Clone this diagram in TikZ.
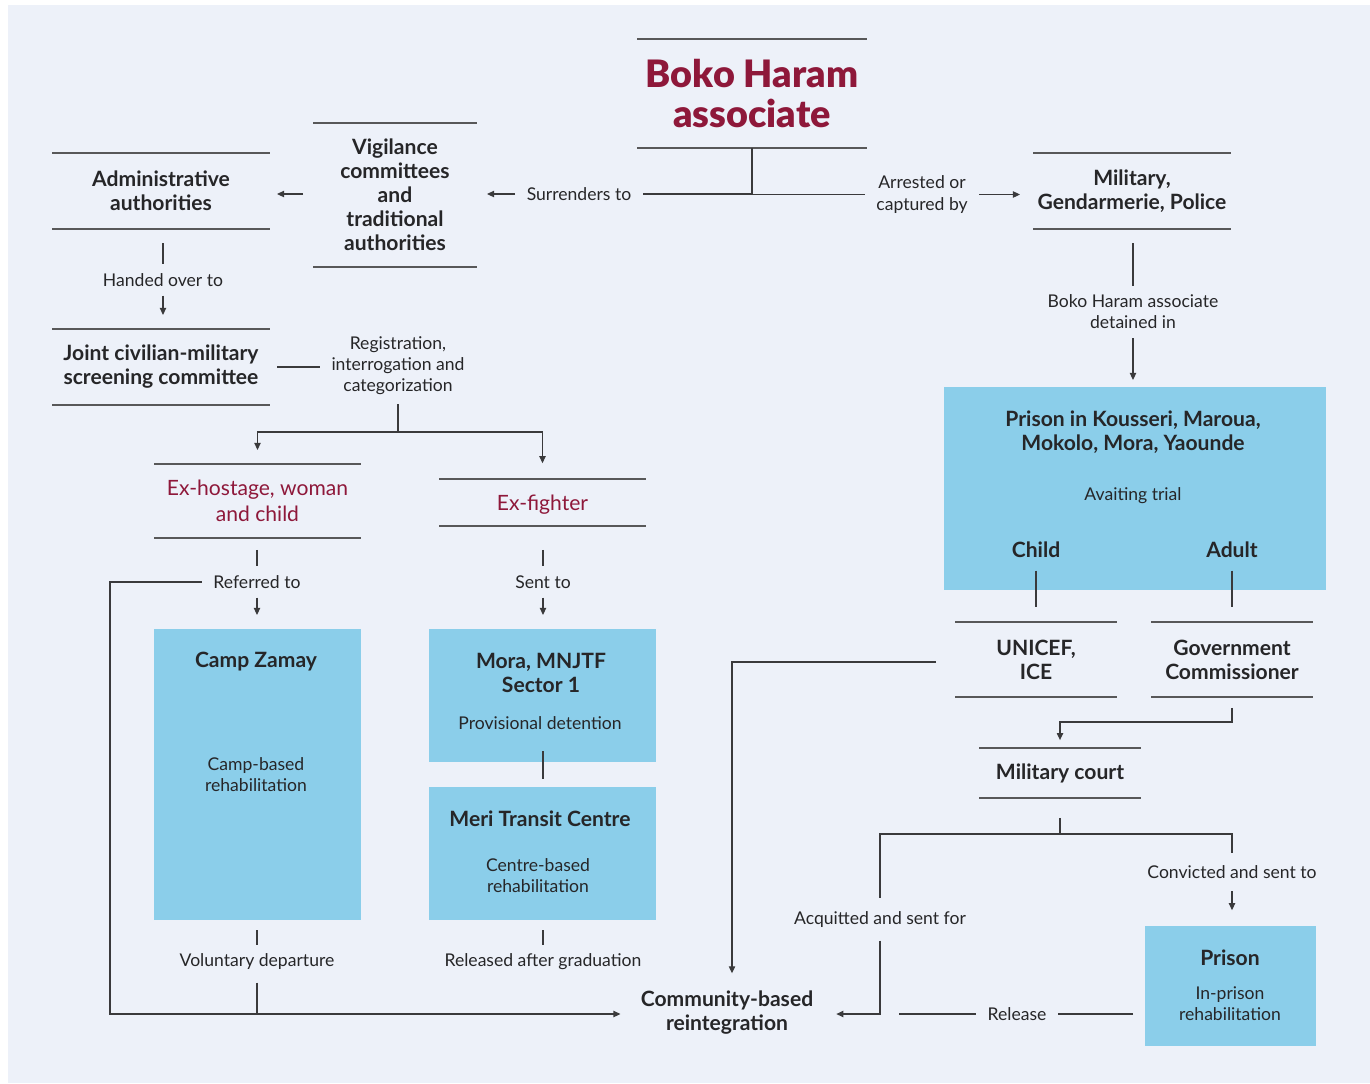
\documentclass[tikz,border=0pt]{standalone}
\usepackage{fontspec}
\setmainfont{Lato}
\newfontfamily\heavyfont{Lato Black}
\usepackage{tikz}
\usetikzlibrary{arrows.meta,positioning,calc}
\usepackage{xcolor}
\definecolor{panelgray}{RGB}{237,241,249}
\definecolor{skyblue}{RGB}{139,206,234}
\definecolor{maroon}{RGB}{142,24,58}
\definecolor{inkgray}{RGB}{38,38,40}
\definecolor{linegray}{RGB}{58,58,60}
\tikzset{
  title/.style={font=\fontsize{21.5}{22.7}\selectfont\heavyfont, text=maroon, align=center},
  head/.style={font=\fontsize{12}{13.7}\selectfont\bfseries, text=inkgray, align=center, inner sep=0pt},
  note/.style={font=\fontsize{10}{12}\selectfont, text=inkgray, align=center, inner sep=0pt},
  lbl/.style={font=\fontsize{10}{12}\selectfont, text=inkgray, align=center, inner xsep=6.5pt, inner ysep=5pt},
  redlbl/.style={font=\fontsize{12}{14.7}\selectfont, text=maroon, align=center},
  bar/.style n args={2}{minimum width=#1, minimum height=#2, inner sep=0pt, outer sep=0pt},
  box/.style n args={2}{fill=skyblue, minimum width=#1, minimum height=#2, inner sep=0pt, outer sep=0pt},
  barline/.style={draw=linegray!85, line width=0.75pt},
  link/.style={draw=linegray, line width=0.65pt},
  arrow/.style={link, -{Triangle[length=4pt,width=3.6pt]}},
}
\begin{document}
\begin{tikzpicture}[x=0.02cm, y=-0.02cm]
\fill[white] (0,0) rectangle (1370,1083);
\fill[panelgray] (8,5) rectangle (1370,1083);
\useasboundingbox (0,0) rectangle (1370,1083);

% nodes with a rule above and below
\node[bar={4.6cm}{2.18cm}, title] (boko) at (752,93.5) {Boko Haram\\associate};
\node[bar={3.28cm}{2.88cm}, head] (vig) at (395,195) {Vigilance\\committees\\and\\traditional\\authorities};
\node[bar={4.36cm}{1.52cm}, head] (admin) at (161,191) {Administrative\\authorities};
\node[bar={4.36cm}{1.52cm}, head] (joint) at (161,367) {Joint civilian-military\\screening committee};
\node[bar={4.14cm}{1.48cm}, redlbl] (exh) at (257.5,501) {Ex-hostage, woman\\and child};
\node[bar={4.14cm}{0.94cm}, redlbl, text depth=0pt] (exf) at (542.5,502.5) {Ex-fighter};
\node[bar={3.96cm}{1.52cm}, head] (mil) at (1132,191) {Military,\\Gendarmerie, Police};
\node[bar={3.24cm}{1.5cm}, head] (unicef) at (1036,659.5) {UNICEF,\\ICE};
\node[bar={3.24cm}{1.5cm}, head] (gov) at (1232,659.5) {Government\\Commissioner};
\node[bar={3.24cm}{1.0cm}, head] (court) at (1060,773) {Military court};
\foreach \n in {boko,vig,admin,joint,exh,exf,mil,unicef,gov,court}
  \draw[barline] (\n.north west) -- (\n.north east) (\n.south west) -- (\n.south east);

% blue boxes
\node[box={4.14cm}{5.82cm}] (camp) at (257.5,774.5) {};
\node[box={4.54cm}{2.66cm}] (mora) at (542.5,695.5) {};
\node[box={4.54cm}{2.66cm}] (meri) at (542.5,853.5) {};
\node[box={7.64cm}{4.06cm}] (pbig) at (1135,488.5) {};
\node[box={3.42cm}{2.4cm}] (prison) at (1230.5,986) {};

\node[head] (campT) at (256,662) {Camp Zamay};
\node[note] (campS) at (256,774.5) {Camp-based\\rehabilitation};
\node[head] (moraT) at (541,673) {Mora, MNJTF\\Sector 1};
\node[note] (moraS) at (540,723) {Provisional detention};
\node[head] (meriT) at (540,819) {Meri Transit Centre};
\node[note] (meriS) at (538,875.5) {Centre-based\\rehabilitation};
\node[head] (pbigT) at (1133,432) {Prison in Kousseri, Maroua,\\Mokolo, Mora, Yaounde};
\node[note] (pbigS) at (1133,496) {Avaiting trial};
\node[head] (child) at (1036,550) {Child};
\node[head] (adult) at (1232,550) {Adult};
\node[head] (prisonT) at (1230,958) {Prison};
\node[note] (prisonS) at (1230,1003.5) {In-prison\\rehabilitation};
\node[head] (comm) at (727,1013) {Community-based\\reintegration};

% connector labels
\node[lbl] (surr) at (579,194) {Surrenders to};
\node[lbl] (arr) at (922,194.5) {Arrested or\\captured by};
\node[lbl] (hand) at (163,280) {Handed over to};
\node[lbl] (reg) at (398,366) {Registration,\\interrogation and\\categorization};
\node[lbl] (refd) at (257,582) {Referred to};
\node[lbl] (sent) at (543,582) {Sent to};
\node[lbl] (vol) at (257,962) {Voluntary departure};
\node[lbl] (grad) at (543,962) {Released after graduation};
\node[lbl] (det) at (1133,312) {Boko Haram associate\\detained in};
\node[lbl] (conv) at (1232,872) {Convicted and sent to};
\node[lbl] (acq) at (880,920) {Acquitted and sent for};
\node[lbl] (rel) at (1017,1014) {Release};

\coordinate (sort) at (398,432);
\coordinate (back) at (110,1014);
\coordinate (verdict) at (1060,834);
\coordinate (drop) at (732,662);

\draw[link] (boko.south) |- (surr.east);
\draw[link] (boko.south) |- (arr.west);
\draw[arrow, shorten >=5.7pt] (surr.west) -- (surr.west -| vig.east);
\draw[arrow, shorten <=5.7pt, shorten >=4pt] (surr.west -| vig.west) -- (surr.west -| admin.east);
\draw[link, shorten <=8pt] (admin.south -| hand) -- (hand);
\draw[arrow, shorten >=8pt] (hand) -- (hand |- joint.north);
\draw[link, shorten <=4pt] (joint.east) -- (joint.east -| reg.west);
\draw[link] (reg) -- (sort);
\draw[arrow, shorten >=8pt] (sort) -| (exh.north);
\draw[arrow, shorten >=9pt] (sort) -| (exf.north);
\draw[link, shorten <=6.8pt] (exh.south -| refd) -- (refd);
\draw[arrow, shorten >=8pt] (refd) -- (refd |- camp.north);
\draw[link, shorten <=13.6pt] (exf.south -| sent) -- (sent);
\draw[arrow, shorten >=8pt] (sent) -- (sent |- mora.north);
\draw[link, shorten <=-6.2pt, shorten >=4.5pt] (mora.south -| sent) -- (meri.north -| sent);
\draw[link, shorten <=5.7pt] (camp.south -| vol) -- (vol);
\draw[link, shorten <=5.7pt] (meri.south -| grad) -- (grad);
\draw[arrow, shorten >=11.4pt] (refd.west) -| (back) -- (back -| comm.west);
\draw[link, shorten <=2pt] (vol) -- (vol |- back);
\draw[arrow, shorten >=7.4pt] (arr.east) -- (arr.east -| mil.west);
\draw[link, shorten <=8pt] (mil.south -| det) -- (det);
\draw[arrow, shorten >=4pt] (det) -- (det |- pbig.north);
\draw[link, shorten <=7pt, shorten >=8.5pt] (child) -- (child |- unicef.north);
\draw[link, shorten <=7pt, shorten >=8.5pt] (adult) -- (adult |- gov.north);
\draw[arrow, shorten <=10.8pt, shorten >=10pt] (unicef.west |- drop) -- (drop) -- (drop |- comm.north);
\draw[arrow, shorten <=6.2pt, shorten >=4.5pt] (gov.south) -- ++(0,25) -| (court.north);
\draw[link, shorten <=11.3pt] (court.south) -- (verdict);
\draw[link, shorten >=3pt] (verdict) -| (acq.north);
\draw[link, shorten >=2pt] (verdict) -| (conv.north);
\draw[arrow, shorten <=2pt, shorten >=9pt] (conv) -- (conv |- prison.north);
\draw[arrow, shorten <=2pt, shorten >=13pt] (acq) |- (back -| comm.east);
\draw[link, shorten <=6.8pt] (prison.west |- rel.east) -- (rel.east);
\draw[link, shorten >=10.8pt] (rel.west) -- (rel.west -| acq);
\end{tikzpicture}
\end{document}
